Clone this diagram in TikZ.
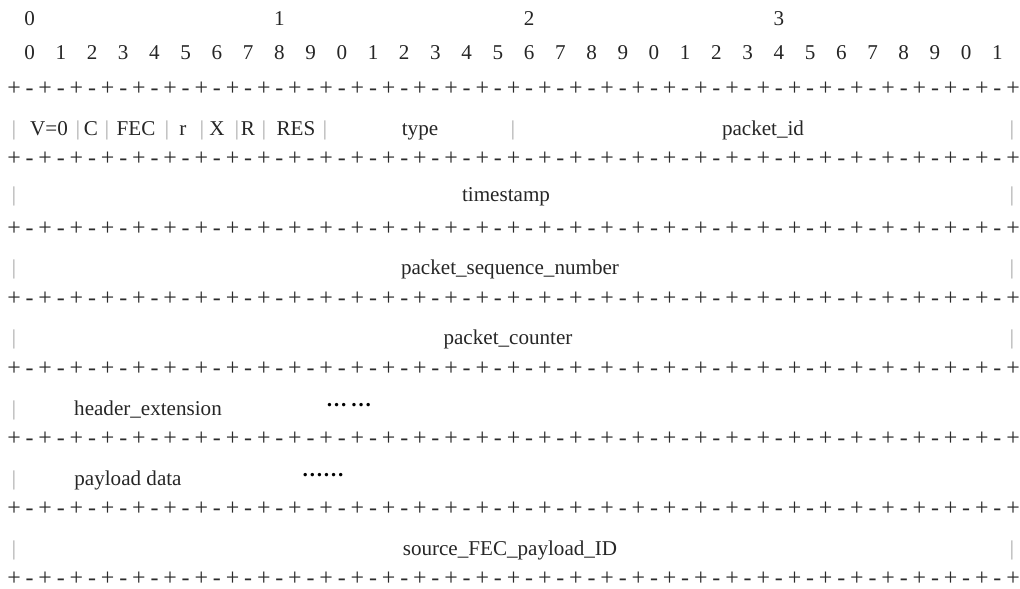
\documentclass[tikz,border=0pt]{standalone}
\usepackage{fontspec}
\setmainfont{Liberation Serif}
\definecolor{signgray}{HTML}{2A2A2A}
\definecolor{bargray}{HTML}{A8A8A8}
\definecolor{textgray}{HTML}{262626}

\tikzset{
    cell/.style={font=\fontsize{15}{18}\selectfont, inner sep=0pt, text height=1.5ex, text depth=.25ex},
    sign/.style={cell, font=\fontsize{17}{18}\selectfont, text height=1.2ex, text depth=0pt, text=signgray},
    bar/.style={cell, text=bargray},
    field/.style={cell, text=textgray},
    dots/.style={cell, font=\fontsize{15}{18}\selectfont\bfseries, text=black, anchor=base}
}

\begin{document}
\begin{tikzpicture}[x=0.025cm, y=-0.025cm]
        \useasboundingbox (0,0) rectangle (1020,589);

        %bit numbers
        \foreach \t in {0,1,2,3}
            \node[field] (ten\t) at (29.6+249.8*\t, 21) {\t};
        \foreach \k in {0,...,31} {
            \pgfmathtruncatemacro{\d}{mod(\k,10)}
            \node[field] (bit\k) at (29.6+31.22*\k, 55) {\d};
        }

        %separator rows
        \foreach \j in {0,...,7} {
            \foreach \k in {0,...,32}
                \node[sign] (plus\j-\k) at (14+31.22*\k, 92+70*\j) {+};
            \foreach \k in {0,...,31}
                \node[sign] (dash\j-\k) at (29.6+31.22*\k, 92+70*\j) {-};
        }

        %first word
        \foreach \x [count=\i] in {14,78,107,167,202,237,264,325,513,1012}
            \node[bar] (bar1-\i) at (\x, 131) {|};
        \node[field] (ver) at (49, 131) {V=0};
        \node[field] (cflag) at (91, 131) {C};
        \node[field] (fec) at (136, 131) {FEC};
        \node[field] (rflag) at (183, 131) {r};
        \node[field] (xflag) at (217, 131) {X};
        \node[field] (bigr) at (248, 131) {R};
        \node[field] (res) at (296, 131) {RES};
        \node[field] (type) at (420, 131) {type};
        \node[field] (pid) at (763, 131) {packet\_id};

        %full width words
        \foreach \y [count=\i from 2] in {197,270,340,551} {
            \node[bar] (left\i) at (14, \y) {|};
            \node[bar] (right\i) at (1012, \y) {|};
        }
        \node[field] (stamp) at (506, 197) {timestamp};
        \node[field] (seqno) at (510, 270) {packet\_sequence\_number};
        \node[field] (counter) at (508, 340) {packet\_counter};
        \node[field] (fecid) at (510, 551) {source\_FEC\_payload\_ID};

        %variable length parts
        \node[bar] (left5) at (14, 411) {|};
        \node[bar] (left6) at (14, 481) {|};
        \node[field] (hdrext) at (148, 411) {header\_extension};
        \node[field] (payload) at (128, 481) {payload data};
        \node[dots] (more1) at (349, 407) {…\,…};
        \node[dots] (more2) at (323, 477) {……};
    \end{tikzpicture}
\end{document}
